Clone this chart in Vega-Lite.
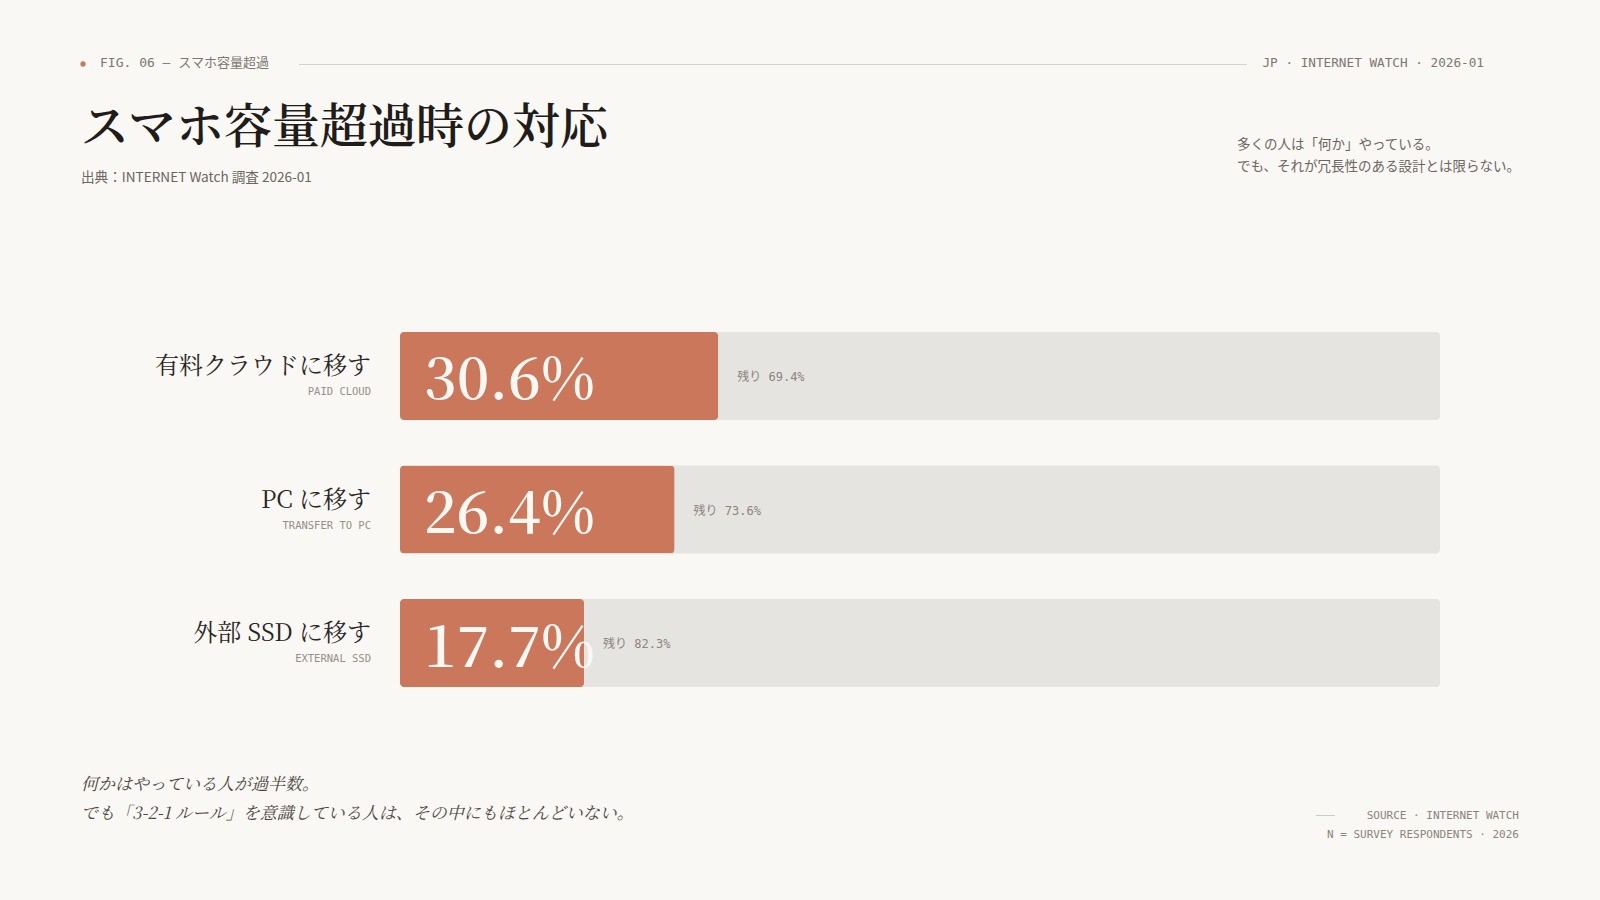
{
  "$schema": "https://vega.github.io/schema/vega-lite/v6.json",
  "width": 1600,
  "height": 900,
  "autosize": "none",
  "padding": 0,
  "background": "#f9f8f5",
  "config": {"view": {"stroke": null}},
  "layer": [
    {
      "data": {"values": [
        {"key": "cloud", "ja": "有料クラウドに移す", "en": "PAID CLOUD", "value": 30.6, "pct": "30.6%", "rest": "残り 69.4%"},
        {"key": "pc", "ja": "PC に移す", "en": "TRANSFER TO PC", "value": 26.4, "pct": "26.4%", "rest": "残り 73.6%"},
        {"key": "ssd", "ja": "外部 SSD に移す", "en": "EXTERNAL SSD", "value": 17.7, "pct": "17.7%", "rest": "残り 82.3%"}
      ]},
      "encoding": {
        "y": {"field": "key", "type": "nominal", "axis": null, "sort": null,
              "scale": {"type": "band", "domain": ["cloud", "pc", "ssd"], "range": [332, 687], "paddingInner": 0.341, "paddingOuter": 0}}
      },
      "layer": [
        {
          "mark": {"type": "bar", "color": "#e6e4e1", "cornerRadius": 4},
          "encoding": {
            "x": {"datum": 0, "type": "quantitative", "axis": null, "scale": {"domain": [0, 100], "range": [400, 1440]}},
            "x2": {"datum": 100}
          }
        },
        {
          "mark": {"type": "bar", "color": "#cb775b", "cornerRadius": 4},
          "encoding": {
            "x": {"field": "value", "type": "quantitative", "axis": null}
          }
        },
        {
          "mark": {"type": "text", "align": "left", "baseline": "alphabetic", "dx": 24, "dy": 23.5, "font": "Noto Serif CJK JP, Liberation Serif, serif", "fontSize": 57, "fontWeight": 600, "color": "#fbf8f4"},
          "encoding": {
            "x": {"datum": 0, "type": "quantitative"},
            "text": {"field": "pct"}
          }
        },
        {
          "mark": {"type": "text", "align": "left", "baseline": "middle", "dx": 19, "dy": 1, "font": "DejaVu Sans Mono, Noto Sans CJK JP", "fontSize": 12, "color": "#8a847c"},
          "encoding": {
            "x": {"field": "value", "type": "quantitative"},
            "text": {"field": "rest"}
          }
        },
        {
          "mark": {"type": "text", "align": "right", "baseline": "alphabetic", "dx": -29, "dy": -2, "font": "Noto Serif CJK JP, Liberation Serif, Noto Sans CJK JP, serif", "fontSize": 24, "color": "#2a2622"},
          "encoding": {
            "x": {"datum": 0, "type": "quantitative"},
            "text": {"field": "ja"}
          }
        },
        {
          "mark": {"type": "text", "align": "right", "baseline": "alphabetic", "dx": -29, "dy": 19, "font": "DejaVu Sans Mono", "fontSize": 10.5, "color": "#958f87"},
          "encoding": {
            "x": {"datum": 0, "type": "quantitative"},
            "text": {"field": "en"}
          }
        }
      ]
    },
    {
      "data": {"values": [{"t": "dot"}]},
      "mark": {"type": "point", "filled": true, "shape": "circle", "size": 28, "color": "#cb775b", "opacity": 1},
      "encoding": {"x": {"value": 83}, "y": {"value": 64}}
    },
    {
      "data": {"values": [{"t": "FIG. 06 — スマホ容量超過"}]},
      "mark": {"type": "text", "align": "left", "baseline": "alphabetic", "x": 100, "y": 67, "font": "DejaVu Sans Mono, Noto Sans CJK JP", "fontSize": 13, "color": "#7d776f"},
      "encoding": {"text": {"field": "t"}}
    },
    {
      "data": {"values": [{"t": "line"}]},
      "mark": {"type": "rule", "color": "#d6d2cc", "strokeWidth": 1},
      "encoding": {"x": {"value": 299}, "x2": {"value": 1247}, "y": {"value": 64.5}}
    },
    {
      "data": {"values": [{"t": "JP · INTERNET WATCH · 2026-01"}]},
      "mark": {"type": "text", "align": "right", "baseline": "alphabetic", "x": 1484, "y": 67, "font": "DejaVu Sans Mono", "fontSize": 12.7, "color": "#7d776f"},
      "encoding": {"text": {"field": "t"}}
    },
    {
      "data": {"values": [{"t": "スマホ容量超過時の対応"}]},
      "mark": {"type": "text", "align": "left", "baseline": "alphabetic", "x": 81, "y": 143, "font": "Noto Serif CJK JP, Noto Sans CJK JP, serif", "fontSize": 48, "fontWeight": 600, "color": "#1f1c19"},
      "encoding": {"text": {"field": "t"}}
    },
    {
      "data": {"values": [{"t": "出典：INTERNET Watch 調査 2026-01"}]},
      "mark": {"type": "text", "align": "left", "baseline": "alphabetic", "x": 81, "y": 182, "font": "Noto Sans CJK JP", "fontSize": 13.6, "color": "#6b655e"},
      "encoding": {"text": {"field": "t"}}
    },
    {
      "data": {"values": [{"t": "多くの人は「何か」やっている。\nでも、それが冗長性のある設計とは限らない。"}]},
      "mark": {"type": "text", "align": "left", "baseline": "alphabetic", "x": 1237, "y": 149, "lineBreak": "\n", "lineHeight": 22, "font": "Noto Sans CJK JP", "fontSize": 13.5, "color": "#6b655e"},
      "encoding": {"text": {"field": "t"}}
    },
    {
      "data": {"values": [{"t": "何かはやっている人が過半数。\nでも「3-2-1 ルール」を意識している人は、その中にもほとんどいない。"}]},
      "mark": {"type": "text", "align": "left", "baseline": "alphabetic", "x": 81, "y": 790, "lineBreak": "\n", "lineHeight": 29, "font": "Noto Serif CJK JP, Liberation Serif, serif", "fontStyle": "italic", "fontSize": 17, "color": "#4a4540"},
      "encoding": {"text": {"field": "t"}}
    },
    {
      "data": {"values": [{"t": "line"}]},
      "mark": {"type": "rule", "color": "#cfcac3", "strokeWidth": 1},
      "encoding": {"x": {"value": 1316}, "x2": {"value": 1335}, "y": {"value": 815.5}}
    },
    {
      "data": {"values": [{"t": "SOURCE · INTERNET WATCH\nN = SURVEY RESPONDENTS · 2026"}]},
      "mark": {"type": "text", "align": "right", "baseline": "alphabetic", "x": 1519, "y": 819, "lineBreak": "\n", "lineHeight": 19, "font": "DejaVu Sans Mono", "fontSize": 11, "color": "#8a847c"},
      "encoding": {"text": {"field": "t"}}
    }
  ]
}
